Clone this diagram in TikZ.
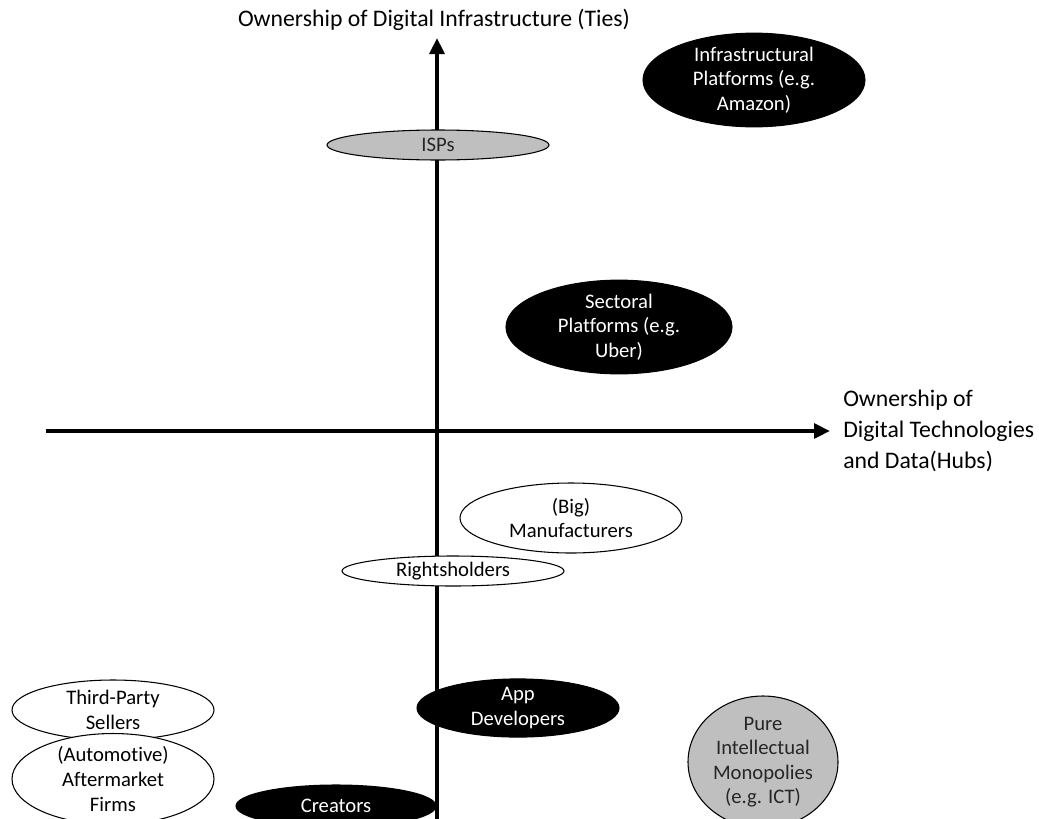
\documentclass[tikz,border=0pt]{standalone}
\usepackage{fontspec}
\setmainfont{Carlito}[Ligatures={NoCommon}]
\usetikzlibrary{shapes.geometric,arrows.meta}
\definecolor{grayfill}{HTML}{BFBFBF}
\begin{document}
\begin{tikzpicture}[x=0.75pt,y=-0.75pt,
  blob/.style={ellipse,draw=black,line width=0.8pt,inner sep=0pt,align=center,
    font=\fontsize{15.5}{18.4}\selectfont},
  darkblob/.style={blob,fill=black,text=white},
  greyblob/.style={blob,fill=grayfill,text=black!85},
  whiteblob/.style={blob,fill=white,text=black},
  axis/.style={line width=3pt,-{Triangle[length=12pt,width=11pt]}},
  axlabel/.style={font=\fontsize{17.8}{23.25}\selectfont,align=left,inner sep=0pt}]
\useasboundingbox (0,0) rectangle (1039,818);
\clip (0,0) rectangle (1039,818);
% axes
\coordinate (vbot) at (437,830);
\coordinate (vtop) at (437,38);
\coordinate (hleft) at (46,431);
\coordinate (hright) at (830,431);
\draw[axis] (vbot) -- (vtop);
\draw[axis] (hleft) -- (hright);
\node[axlabel,anchor=base] (ylab) at (434,26) {Ownership of Digital Infrastructure (Ties)};
\node[axlabel,anchor=west] (xlab) at (843,431) {Ownership of\\Digital Technologies\\and Data(Hubs)};
% ellipses
\node[darkblob,minimum width=166.5pt,minimum height=67.5pt] (infra) at (754,80) {Infrastructural\\Platforms (e.g.\\Amazon)};
\node[greyblob,minimum width=166.5pt,minimum height=22.5pt] (isps) at (438,145) {ISPs};
\node[darkblob,minimum width=169.5pt,minimum height=69pt] (sect) at (619,327) {Sectoral\\Platforms (e.g.\\Uber)};
\node[whiteblob,minimum width=166.5pt,minimum height=52.5pt] (manu) at (571,518) {(Big)\\Manufacturers};
\node[whiteblob,minimum width=166.5pt,minimum height=22.5pt] (rights) at (453,571) {Rightsholders};
\node[darkblob,minimum width=151.5pt,minimum height=42pt] (app) at (518,708) {App\\Developers};
\node[whiteblob,minimum width=151.5pt,minimum height=45pt] (third) at (113,710) {Third-Party\\Sellers};
\node[whiteblob,minimum width=151.5pt,minimum height=64.5pt] (after) at (113,779) {(Automotive)\\Aftermarket\\Firms};
\node[darkblob,minimum width=150pt,minimum height=31.5pt] (creat) at (336,806) {Creators};
\node[greyblob,minimum width=112.5pt,minimum height=99pt] (pure) at (763,762) {Pure\\Intellectual\\Monopolies\\(e.g. ICT)};
\end{tikzpicture}
\end{document}
